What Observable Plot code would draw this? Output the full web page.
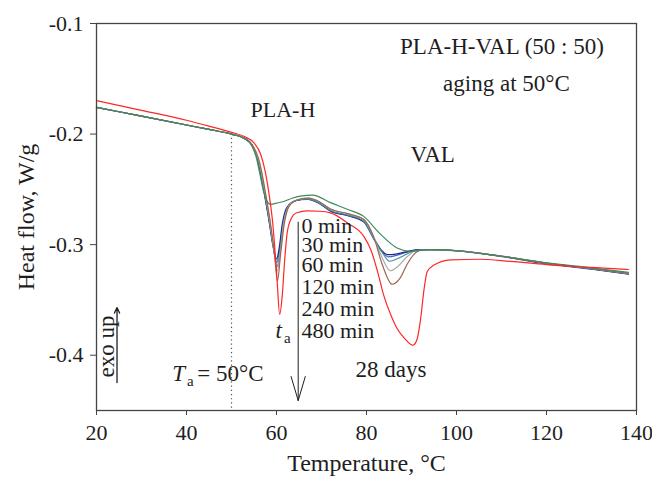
<!DOCTYPE html>
<html>
<head>
<meta charset="utf-8">
<script src="https://cdn.jsdelivr.net/npm/d3@7"></script>
<script src="https://cdn.jsdelivr.net/npm/@observablehq/plot@0.6"></script>
<style>
  body { margin: 0; background: #fff; }
  #chart svg { display: block; }
</style>
</head>
<body>
<div id="chart"></div>
<script>
// ---- data ----
const seriesNames = ["0 min", "30 min", "60 min", "120 min", "240 min", "480 min", "28 days"];
const seriesColors = ["#3e8a5c", "#26267e", "#4a62d0", "#3f8ea0", "#a9a9a9", "#9a6652", "#ff2626"];
const xTicks = [20, 40, 60, 80, 100, 120, 140];
const yTicks = [-0.1, -0.2, -0.3, -0.4];

// 0 min (green)
const temp0 = [20, 30, 40, 45, 50, 53, 54.5, 55.5, 56.3, 57.2, 58.0, 58.7, 60, 61.6, 63.5, 65.3, 68, 72, 75.7, 79.3, 83.1, 86.8, 89.8, 94, 100, 110, 120, 130, 138.2];
const flow0 = [-0.1758, -0.1838, -0.1918, -0.1958, -0.2, -0.2045, -0.2105, -0.221, -0.236, -0.253, -0.2615, -0.2636, -0.2625, -0.261, -0.258, -0.2561, -0.2552, -0.262, -0.268, -0.2742, -0.2905, -0.303, -0.306, -0.3045, -0.3055, -0.3105, -0.3165, -0.321, -0.325];
// 30 min (navy)
const temp30 = [20, 30, 40, 45, 50, 53, 54.5, 55.7, 56.4, 57.2, 58.3, 59.3, 60.0, 60.6, 61.3, 62.2, 63.5, 65.5, 67, 69.5, 72, 76, 79.4, 81.6, 83.3, 84.7, 86.5, 88.5, 91, 94, 100, 110, 120, 130, 138.2];
const flow30 = [-0.1758, -0.1838, -0.1918, -0.1958, -0.2, -0.204, -0.2095, -0.221, -0.233, -0.251, -0.277, -0.302, -0.313, -0.303, -0.281, -0.267, -0.2615, -0.2592, -0.2588, -0.2625, -0.2695, -0.2738, -0.2792, -0.294, -0.305, -0.309, -0.3085, -0.3068, -0.3048, -0.3045, -0.3055, -0.3105, -0.317, -0.322, -0.3265];
// 60 min (blue)
const temp60 = [20, 30, 40, 45, 50, 53, 54.5, 55.7, 56.4, 57.2, 58.3, 59.3, 60.05, 60.7, 61.4, 62.3, 63.5, 65.5, 67, 69.5, 72, 76, 79.4, 81.6, 83.4, 84.9, 86.8, 88.8, 91, 94, 100, 110, 120, 130, 138.2];
const flow60 = [-0.1758, -0.1838, -0.1918, -0.1958, -0.2, -0.204, -0.2095, -0.2212, -0.2332, -0.2512, -0.2775, -0.303, -0.316, -0.304, -0.281, -0.2672, -0.2617, -0.2594, -0.259, -0.2628, -0.2698, -0.274, -0.2795, -0.2948, -0.306, -0.311, -0.3095, -0.307, -0.305, -0.3046, -0.3056, -0.3108, -0.3172, -0.3222, -0.3268];
// 120 min (teal)
const temp120 = [20, 30, 40, 45, 50, 53, 54.5, 55.8, 56.5, 57.3, 58.4, 59.4, 60.1, 60.8, 61.5, 62.4, 63.6, 65.5, 67, 69.5, 72, 76, 79.4, 81.6, 83.5, 85.1, 87, 89, 91, 94, 100, 110, 120, 130, 138.2];
const flow120 = [-0.1758, -0.1838, -0.1918, -0.1958, -0.2, -0.2042, -0.2097, -0.2215, -0.2335, -0.2515, -0.278, -0.305, -0.32, -0.305, -0.281, -0.2672, -0.2615, -0.2592, -0.2588, -0.2625, -0.2692, -0.2735, -0.2788, -0.2945, -0.307, -0.315, -0.3125, -0.3085, -0.3052, -0.3046, -0.3055, -0.3105, -0.3168, -0.3218, -0.3262];
// 240 min (gray)
const temp240 = [20, 30, 40, 45, 50, 53, 54.6, 55.9, 56.6, 57.4, 58.5, 59.5, 60.15, 60.85, 61.6, 62.5, 63.7, 65.5, 67, 69.5, 72, 76, 79.4, 81.6, 83.5, 85.3, 87, 89, 91, 94, 100, 110, 120, 130, 138.2];
const flow240 = [-0.1758, -0.1838, -0.1918, -0.1958, -0.2, -0.2043, -0.21, -0.2218, -0.2338, -0.2518, -0.2785, -0.307, -0.324, -0.307, -0.281, -0.2668, -0.261, -0.2585, -0.258, -0.2612, -0.2678, -0.2722, -0.2772, -0.293, -0.312, -0.3236, -0.3195, -0.311, -0.3055, -0.3046, -0.3054, -0.3104, -0.3166, -0.3216, -0.326];
// 480 min (brown)
const temp480 = [20, 30, 40, 45, 50, 53, 54.7, 56.0, 56.7, 57.5, 58.6, 59.6, 60.2, 60.9, 61.7, 62.6, 63.8, 65.5, 67, 69.5, 72, 76, 79.4, 81.6, 83.5, 85.7, 87.5, 89, 90.5, 92, 94, 100, 110, 120, 130, 138.2];
const flow480 = [-0.1758, -0.1838, -0.1918, -0.1958, -0.2, -0.2044, -0.2102, -0.222, -0.234, -0.252, -0.279, -0.31, -0.333, -0.309, -0.282, -0.2668, -0.261, -0.2585, -0.258, -0.2612, -0.2678, -0.2722, -0.2772, -0.293, -0.318, -0.3358, -0.33, -0.318, -0.309, -0.305, -0.3045, -0.3054, -0.3104, -0.3166, -0.3216, -0.326];
// 28 days (red)
const tempDays = [20, 30, 40, 45, 50, 53, 55, 56.5, 57.5, 58.3, 59.2, 60.1, 60.7, 61.3, 61.8, 62.4, 63.2, 64.5, 66.8, 69.5, 72, 76, 79.4, 81, 82.5, 83.8, 85.5, 86.8, 88.5, 90.3, 91.2, 92, 92.8, 93.5, 95, 98.7, 105, 112, 120, 130, 138.2];
const flowDays = [-0.1697, -0.1785, -0.1875, -0.1928, -0.1985, -0.2025, -0.208, -0.2185, -0.234, -0.253, -0.282, -0.33, -0.363, -0.345, -0.315, -0.2885, -0.277, -0.2712, -0.2695, -0.2698, -0.2712, -0.281, -0.2925, -0.305, -0.325, -0.3455, -0.3645, -0.3758, -0.385, -0.391, -0.386, -0.368, -0.34, -0.3243, -0.3185, -0.3138, -0.3132, -0.3152, -0.318, -0.3205, -0.3225];

const temps = [temp0, temp30, temp60, temp120, temp240, temp480, tempDays];
const flows = [flow0, flow30, flow60, flow120, flow240, flow480, flowDays];

// ---- build table ----
const drawOrder = [2, 1, 3, 4, 5, 0, 6];
const rows = [];
for (const i of drawOrder) {
  temps[i].forEach((t, k) => rows.push({series: seriesNames[i], T: t, flow: flows[i][k]}));
}

const ink = "#1e1e1e";
const timeLabels = seriesNames.slice(0, 6);
const timeLabelY = [-0.2899, -0.3071, -0.3247, -0.3442, -0.3645, -0.3844];

const plot = Plot.plot({
  width: 652,
  height: 479,
  marginTop: 23,
  marginBottom: 69,
  marginLeft: 96,
  marginRight: 16,
  style: {fontFamily: "'Liberation Serif', serif", fontSize: "22px", color: ink, background: "#fff"},
  x: {domain: [20, 140]},
  y: {domain: [-0.45, -0.1]},
  color: {domain: seriesNames, range: seriesColors},
  marks: [
    Plot.ruleX([50], {y1: -0.2, y2: -0.45, stroke: "#555", strokeWidth: 1.2, strokeDasharray: "1.2,3"}),
    Plot.line(rows, {x: "T", y: "flow", z: "series", stroke: "series", strokeWidth: 1.2, curve: "monotone-x"}),
    Plot.frame({stroke: "#444", strokeWidth: 1.3}),
    Plot.axisX({ticks: xTicks, tickSize: 5, tickPadding: 9, label: null, stroke: "#444"}),
    Plot.axisY({ticks: yTicks, tickSize: 6, tickPadding: 7, label: null, tickFormat: d => d.toFixed(1), stroke: "#444"}),
    // axis titles
    Plot.text(["Temperature, \u00B0C"], {ariaLabel: "title-x", frameAnchor: "bottom", textAnchor: "middle", lineAnchor: "bottom", dy: 60, fontSize: 24, text: d => d, fill: ink}),
    Plot.text(["Heat flow, W/g"], {ariaLabel: "title-y", frameAnchor: "left", textAnchor: "middle", lineAnchor: "bottom", rotate: -90, dx: -63, fontSize: 24, text: d => d, fill: ink}),
    // annotations
    Plot.text([{x: 54.22, y: -0.185, t: "PLA-H"}], {x: "x", y: "y", text: "t", textAnchor: "start", lineAnchor: "bottom", fill: ink}),
    Plot.text([{x: 89.78, y: -0.2257, t: "VAL"}, {x: 77.56, y: -0.4199, t: "28 days"}],
      {ariaLabel: "note-wide", x: "x", y: "y", text: "t", textAnchor: "start", lineAnchor: "bottom", fontSize: 23, fill: ink}),
    Plot.text([{x: 42.38, y: -0.4229, t: "= 50\u00B0C"}],
      {ariaLabel: "note-mid", x: "x", y: "y", text: "t", textAnchor: "start", lineAnchor: "bottom", fontSize: 23, fill: ink}),
    Plot.text([{x: 110.1, y: -0.128, t: "PLA-H-VAL (50 : 50)"}, {x: 111.1, y: -0.1612, t: "aging at 50\u00B0C"}],
      {ariaLabel: "note-wide", x: "x", y: "y", text: "t", textAnchor: "middle", lineAnchor: "bottom", fontSize: 23, fill: ink}),
    Plot.text(timeLabels, {x: () => 65.55, y: (d, i) => timeLabelY[i], text: d => d, textAnchor: "start", lineAnchor: "bottom", fill: ink}),
    Plot.text([{x: 59.78, y: -0.384, t: "t"}, {x: 36.82, y: -0.4229, t: "T"}],
      {x: "x", y: "y", text: "t", textAnchor: "start", lineAnchor: "bottom", fontStyle: "italic", fontSize: 23, fill: ink}),
    Plot.text([{x: 61.67, y: -0.3894, t: "a"}, {x: 40.11, y: -0.4274, t: "a"}],
      {x: "x", y: "y", text: "t", textAnchor: "start", lineAnchor: "bottom", fontSize: 15, fill: ink}),
    Plot.text([{x: 23.78, y: -0.3921, t: "exo up"}],
      {ariaLabel: "note-exo", x: "x", y: "y", text: "t", rotate: -90, textAnchor: "middle", lineAnchor: "bottom", fontSize: 23, fill: ink}),
    Plot.arrow([{x: 24.56, y1: -0.4247, y2: -0.3569}], {x1: "x", x2: "x", y1: "y1", y2: "y2", stroke: ink, strokeWidth: 1.3, headLength: 7, headAngle: 50}),
    Plot.arrow([{x: 64.82, y1: -0.2797, y2: -0.441}], {x1: "x", x2: "x", y1: "y1", y2: "y2", stroke: ink, strokeWidth: 1, headLength: 37.5, headAngle: 33})
  ]
});
const svg = d3.select(plot);
svg.selectAll('g[aria-label="title-x"] text, g[aria-label="title-y"] text').style("letter-spacing", "1px");
svg.selectAll('g[aria-label="note-wide"] text').style("letter-spacing", "1px");
svg.selectAll('g[aria-label="note-mid"] text').style("letter-spacing", "0.5px");
svg.selectAll('g[aria-label="note-exo"] text').style("letter-spacing", "1.5px");
document.getElementById("chart").appendChild(plot);
</script>
</body>
</html>
